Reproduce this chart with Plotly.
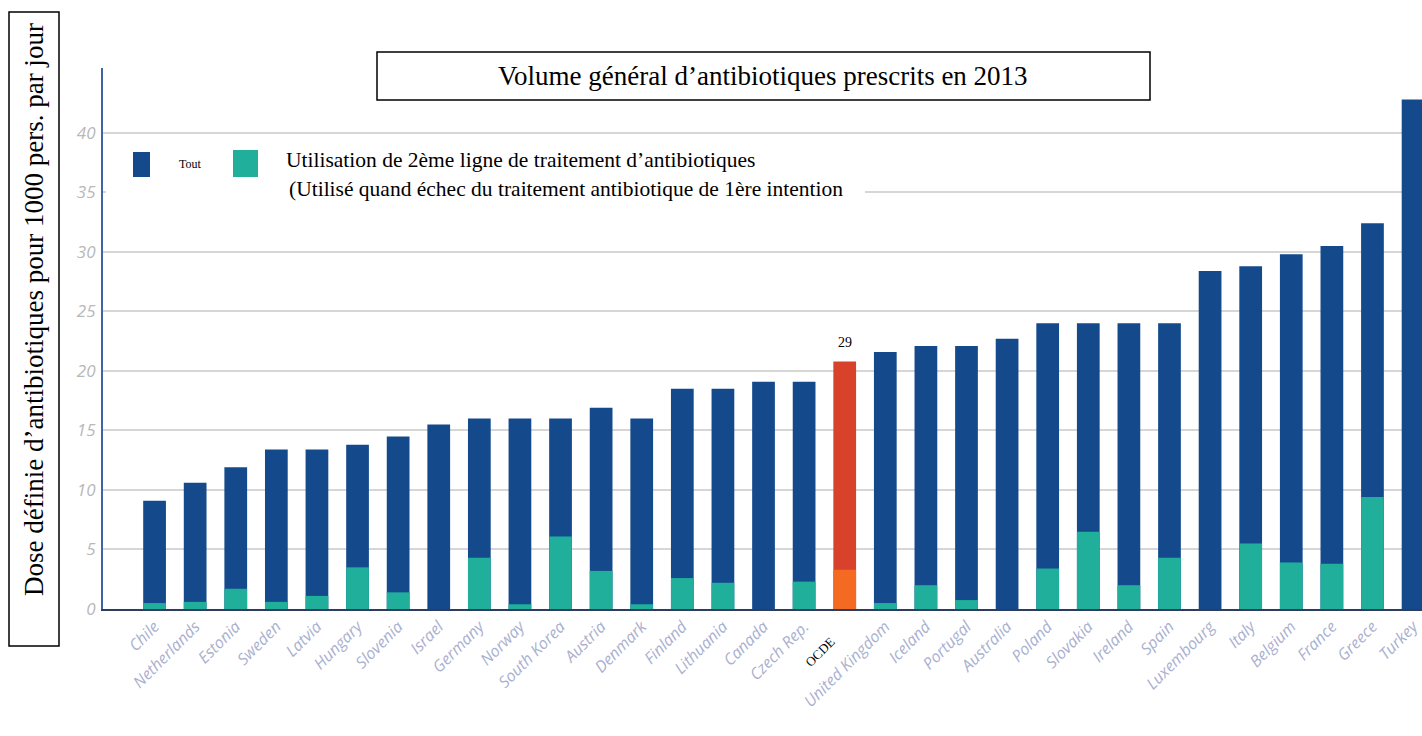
import plotly.graph_objects as go

countries = ["Chile", "Netherlands", "Estonia", "Sweden", "Latvia", "Hungary", "Slovenia",
             "Israel", "Germany", "Norway", "South Korea", "Austria", "Denmark", "Finland",
             "Lithuania", "Canada", "Czech Rep.", "OCDE", "United Kingdom", "Iceland",
             "Portugal", "Australia", "Poland", "Slovakia", "Ireland", "Spain", "Luxembourg",
             "Italy", "Belgium", "France", "Greece", "Turkey"]
total = [9.1, 10.6, 11.9, 13.4, 13.4, 13.8, 14.5, 15.5, 16.0, 16.0, 16.0, 16.9, 16.0, 18.5,
         18.5, 19.1, 19.1, 20.8, 21.6, 22.1, 22.1, 22.7, 24.0, 24.0, 24.0, 24.0, 28.4,
         28.8, 29.8, 30.5, 32.4, 42.8]
second_line = [0.5, 0.6, 1.7, 0.6, 1.1, 3.5, 1.4, 0.0, 4.3, 0.4, 6.1, 3.2, 0.4, 2.6,
               2.2, 0.0, 2.3, 3.3, 0.5, 2.0, 0.75, 0.0, 3.4, 6.5, 2.0, 4.3, 0.0,
               5.5, 3.9, 3.8, 9.4, 0.0]
ocde_label = "29"
y_ticks = [0, 5, 10, 15, 20, 25, 30, 35, 40]

title_text = "Volume général d’antibiotiques prescrits en 2013"
ytitle_text = "Dose définie d’antibiotiques pour 1000 pers. par jour"
legend_all = "Tout"
legend_second = "Utilisation de 2ème ligne de traitement d’antibiotiques"
legend_second2 = "(Utilisé quand échec du traitement antibiotique de 1ère intention"

BLUE = "#144a8c"
TEAL = "#1faf9b"
RED = "#d8422a"
ORANGE = "#f46a22"

blue_colors = [RED if c == "OCDE" else BLUE for c in countries]
teal_colors = [ORANGE if c == "OCDE" else TEAL for c in countries]

ticktext = []
for c in countries:
    if c == "OCDE":
        ticktext.append("<span style='font-family:Liberation Serif;font-style:normal;color:black;font-size:13px'>OCDE</span>&nbsp;&nbsp;&nbsp;&nbsp;&nbsp;")
    else:
        ticktext.append(c)

fig = go.Figure()
fig.add_trace(go.Bar(x=countries, y=total, name=legend_all, marker_color=blue_colors,
                     marker_line_width=0, width=0.56, showlegend=False))
fig.add_trace(go.Bar(x=countries, y=second_line, name=legend_second, marker_color=teal_colors,
                     marker_line_width=0, width=0.56, showlegend=False))

L, R, T, B = 103, 1422, 68, 609
W, H = R - L, B - T


def px(x):
    return (x - L) / W


def py(y):
    return (B - y) / H


shapes = [
    # white area behind the legend
    dict(type="rect", xref="paper", yref="paper", x0=px(106), x1=px(865), y0=py(205), y1=py(140),
         fillcolor="white", line_width=0, layer="above"),
    # legend swatches
    dict(type="rect", xref="paper", yref="paper", x0=px(133), x1=px(150), y0=py(177), y1=py(152),
         fillcolor=BLUE, line_width=0, layer="above"),
    dict(type="rect", xref="paper", yref="paper", x0=px(233), x1=px(258), y0=py(177), y1=py(150),
         fillcolor=TEAL, line_width=0, layer="above"),
    # title box
    dict(type="rect", xref="paper", yref="paper", x0=px(377), x1=px(1150), y0=py(100), y1=py(52),
         fillcolor="white", line=dict(color="black", width=1.5), layer="above"),
    # y title box
    dict(type="rect", xref="paper", yref="paper", x0=px(9), x1=px(59), y0=py(646), y1=py(12),
         fillcolor="rgba(0,0,0,0)", line=dict(color="black", width=1.5), layer="above"),
]

serif = "Liberation Serif"
annotations = [
    dict(text=title_text, xref="paper", yref="paper", x=px(763), y=py(76), showarrow=False,
         xanchor="center", yanchor="middle", font=dict(family=serif, size=27, color="black")),
    dict(text=ytitle_text, xref="paper", yref="paper", x=px(34), y=py(310), showarrow=False,
         textangle=-90, xanchor="center", yanchor="middle",
         font=dict(family=serif, size=27, color="black")),
    dict(text=legend_all, xref="paper", yref="paper", x=px(177), y=py(164), showarrow=False,
         xanchor="left", yanchor="middle", font=dict(family=serif, size=12, color="black")),
    dict(text=legend_second, xref="paper", yref="paper", x=px(284), y=py(160), showarrow=False,
         xanchor="left", yanchor="middle", font=dict(family=serif, size=21.5, color="black")),
    dict(text=legend_second2, xref="paper", yref="paper", x=px(287), y=py(189), showarrow=False,
         xanchor="left", yanchor="middle", font=dict(family=serif, size=21.5, color="black")),
    dict(text=ocde_label, x="OCDE", y=total[countries.index("OCDE")], xref="x", yref="y",
         showarrow=False, yshift=19, font=dict(family=serif, size=14, color="black")),
]

fig.update_layout(
    width=1422, height=736,
    margin=dict(l=L, r=1422 - R, t=T, b=736 - B),
    paper_bgcolor="white", plot_bgcolor="white",
    barmode="overlay",
    shapes=shapes, annotations=annotations,
    xaxis=dict(range=[-1.27, 31.22], tickmode="array", tickvals=countries, ticktext=ticktext,
               tickangle=-45, showgrid=False, showline=True, linecolor="#2c3d5e", linewidth=2,
               ticks="", tickfont=dict(family="Open Sans", size=16, color="#a9b0cf", style="italic")),
    yaxis=dict(range=[0, 45.45], tickvals=y_ticks, showgrid=True, gridcolor="#d6d6d6",
               gridwidth=1.5, zeroline=False, showline=True, linecolor="#3b66a8", linewidth=2,
               ticks="", ticklabelstandoff=2,
               tickfont=dict(family="Open Sans", size=17, color="#b8b8b8", style="italic")),
)

fig.write_html("out.html", config={"displayModeBar": False},
               post_script="document.body.style.margin='0px';")
